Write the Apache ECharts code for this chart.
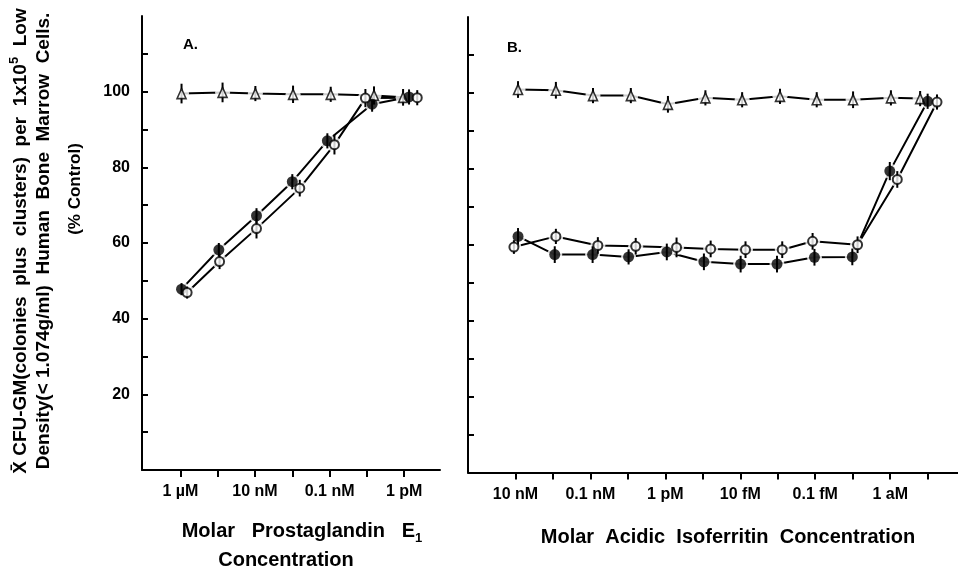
<!DOCTYPE html>
<html>
<head>
<meta charset="utf-8">
<script src="https://cdn.jsdelivr.net/npm/echarts@6/dist/echarts.min.js"></script>
<style>
  html, body { margin: 0; padding: 0; background: #fff; }
  #chart { width: 958px; height: 572px; }
</style>
</head>
<body>
<div id="chart"></div>
<script>
// 轴刻度位置 (对数浓度的序号, 0 = 第一个刻度)
var aTickValues = [0, 1, 2, 3, 4, 5, 6];
var aTickLabels = ['1 µM', '', '10 nM', '', '0.1 nM', '', '1 pM'];
var bTickValues = [0, 1, 2, 3, 4, 5, 6, 7, 8, 9, 10, 11];
var bTickLabels = ['10 nM', '', '0.1 nM', '', '1 pM', '', '10 fM', '', '0.1 fM', '', '1 aM', ''];
var yTickValues = [10, 20, 30, 40, 50, 60, 70, 80, 90, 100, 110];
var yLabelValues = [20, 40, 60, 80, 100];

// A: Prostaglandin E1
var aTriX = [0.03, 1.13, 2.01, 3.02, 4.03, 5.19, 5.97];
var aTriY = [99.5, 99.8, 99.5, 99.3, 99.3, 99.0, 98.5];
var aTriE = [2.6, 2.6, 2.0, 2.3, 2.0, 2.4, 2.2];
var aFillX = [0.03, 1.03, 2.04, 3.0, 3.94, 5.14, 6.13];
var aFillY = [47.8, 58.2, 67.2, 76.2, 87.0, 96.7, 98.6];
var aFillE = [1.6, 1.8, 2.0, 2.0, 2.0, 2.0, 2.0];
var aOpenX = [0.18, 1.05, 2.04, 3.2, 4.13, 4.96, 6.35];
var aOpenY = [46.9, 55.1, 63.8, 74.5, 86.0, 98.3, 98.4];
var aOpenE = [1.6, 2.0, 2.6, 2.2, 2.6, 2.4, 2.0];

// B: Acidic Isoferritin
var bTriX = [0.07, 1.08, 2.07, 3.08, 4.07, 5.07, 6.05, 7.06, 8.04, 9.01, 10.02, 10.8];
var bTriY = [100.9, 100.7, 99.3, 99.3, 97.0, 98.7, 98.2, 99.1, 98.2, 98.2, 98.7, 98.5];
var bTriE = [2.2, 2.2, 2.0, 2.0, 2.2, 2.0, 2.0, 2.0, 2.0, 2.2, 2.0, 2.0];
var bFillX = [0.07, 1.05, 2.06, 3.02, 4.04, 5.03, 6.01, 6.98, 7.98, 8.99, 9.99, 11.0];
var bFillY = [62.2, 57.4, 57.4, 56.8, 58.1, 55.5, 54.9, 54.9, 56.7, 56.8, 79.4, 97.8];
var bFillE = [2.2, 2.2, 2.2, 2.0, 2.2, 2.2, 2.2, 2.2, 2.2, 2.2, 2.4, 2.0];
var bOpenX = [-0.04, 1.08, 2.2, 3.21, 4.3, 5.21, 6.14, 7.12, 7.93, 9.13, 10.19, 11.25];
var bOpenY = [59.4, 62.2, 59.8, 59.6, 59.3, 58.9, 58.7, 58.7, 60.9, 60.0, 77.2, 97.6];
var bOpenE = [1.8, 2.0, 2.2, 2.2, 2.6, 2.2, 2.2, 2.2, 2.2, 2.2, 2.2, 2.0];

var FONT = 'Liberation Sans';

function zip(xs, ys, es) {
  return xs.map(function (x, i) { return es ? [x, ys[i], es[i]] : [x, ys[i]]; });
}

function errRender(params, api) {
  var x = api.value(0), y = api.value(1), e = api.value(2);
  var lo = api.coord([x, y - e]);
  var hi = api.coord([x, y + e]);
  return {
    type: 'line',
    shape: { x1: lo[0], y1: lo[1], x2: hi[0], y2: hi[1] },
    style: { stroke: '#000', lineWidth: 2 }
  };
}

var markStyles = {
  tri: { symbol: 'triangle', size: [9, 10], item: { color: '#fff', borderColor: '#000', borderWidth: 1.6 } },
  fill: { symbol: 'circle', size: 11, item: { color: '#000' } },
  open: { symbol: 'circle', size: 9, item: { color: '#fff', borderColor: '#000', borderWidth: 2 } }
};

// 每组数据: 连线 + 白色衬底 + 误差线 + 标记
function makeSeries(idx, xs, ys, es, kind) {
  var pts = zip(xs, ys);
  var m = markStyles[kind];
  return [
    {
      type: 'line', xAxisIndex: idx, yAxisIndex: idx, data: pts, symbol: 'none',
      lineStyle: { color: '#000', width: 2 }, z: 1, silent: true, animation: false
    },
    {
      type: 'scatter', xAxisIndex: idx, yAxisIndex: idx, data: pts, symbol: 'circle',
      symbolSize: 15, itemStyle: { color: '#fff' }, z: 2, silent: true, animation: false
    },
    {
      type: 'custom', xAxisIndex: idx, yAxisIndex: idx, data: zip(xs, ys, es),
      encode: { x: 0, y: 1 }, renderItem: errRender, z: 3, silent: true, animation: false
    },
    {
      type: 'scatter', xAxisIndex: idx, yAxisIndex: idx, data: pts, symbol: m.symbol,
      symbolSize: m.size, itemStyle: m.item, z: 4, animation: false
    }
  ];
}

function xAxisCfg(idx, min, max, ticks, labels) {
  return {
    type: 'value', gridIndex: idx, min: min, max: max,
    axisLine: { onZero: false, lineStyle: { color: '#000', width: 2 } },
    axisTick: { customValues: ticks, length: 7, lineStyle: { color: '#000', width: 2 } },
    axisLabel: {
      customValues: ticks.filter(function (v, i) { return labels[i] !== ''; }),
      formatter: function (v) { return labels[ticks.indexOf(Math.round(v))] || ''; },
      color: '#000', fontFamily: FONT, fontWeight: 'bold', fontSize: 16, margin: 14
    },
    splitLine: { show: false }
  };
}

function yAxisCfg(idx, showLabels) {
  return {
    type: 'value', gridIndex: idx, min: 0, max: 120,
    axisLine: { show: true, onZero: false, lineStyle: { color: '#000', width: 2 } },
    axisTick: { inside: true, customValues: yTickValues, length: 6, lineStyle: { color: '#000', width: 2 } },
    axisLabel: {
      show: showLabels, customValues: yLabelValues,
      color: '#000', fontFamily: FONT, fontWeight: 'bold', fontSize: 16, margin: 12
    },
    splitLine: { show: false }
  };
}

var chart = echarts.init(document.getElementById('chart'));

var option = {
  backgroundColor: '#fff',
  animation: false,
  grid: [
    { left: 142, top: 16, width: 298, height: 454 },
    { left: 468, top: 17, right: 0, height: 455.5 }
  ],
  xAxis: [
    xAxisCfg(0, -1.03, 6.96, aTickValues, aTickLabels),
    xAxisCfg(1, -1.265, 11.81, bTickValues, bTickLabels)
  ],
  yAxis: [yAxisCfg(0, true), yAxisCfg(1, false)],
  series: [].concat(
    makeSeries(0, aTriX, aTriY, aTriE, 'tri'),
    makeSeries(0, aFillX, aFillY, aFillE, 'fill'),
    makeSeries(0, aOpenX, aOpenY, aOpenE, 'open'),
    makeSeries(1, bTriX, bTriY, bTriE, 'tri'),
    makeSeries(1, bFillX, bFillY, bFillE, 'fill'),
    makeSeries(1, bOpenX, bOpenY, bOpenE, 'open')
  ),
  graphic: [
    { type: 'text', left: 183, top: 37, style: { text: 'A.', font: 'bold 15px ' + FONT, fill: '#000' } },
    { type: 'text', left: 507, top: 40, style: { text: 'B.', font: 'bold 15px ' + FONT, fill: '#000' } },
    {
      type: 'text', x: 19, y: 241, rotation: Math.PI / 2,
      style: {
        text: '{t|X\u0304 CFU-GM(colonies  plus  clusters)  per  1x10}{s|5}{t|  Low}',
        align: 'center', verticalAlign: 'middle', fill: '#000',
        rich: {
          t: { fontFamily: FONT, fontWeight: 'bold', fontSize: 19, lineHeight: 23, verticalAlign: 'bottom' },
          s: { fontFamily: FONT, fontWeight: 'bold', fontSize: 13, lineHeight: 23, verticalAlign: 'top' }
        }
      }
    },
    {
      type: 'text', x: 44, y: 241, rotation: Math.PI / 2,
      style: {
        text: 'Density(< 1.074g/ml)  Human  Bone  Marrow  Cells.',
        align: 'center', verticalAlign: 'middle', fill: '#000',
        font: 'bold 19px ' + FONT
      }
    },
    {
      type: 'text', x: 75, y: 189, rotation: Math.PI / 2,
      style: {
        text: '(% Control)', align: 'center', verticalAlign: 'middle', fill: '#000',
        font: 'bold 17px ' + FONT
      }
    },
    {
      type: 'text', x: 302, y: 533,
      style: {
        text: '{t|Molar   Prostaglandin   E}{b|1}', align: 'center', verticalAlign: 'middle', fill: '#000',
        rich: {
          t: { fontFamily: FONT, fontWeight: 'bold', fontSize: 20, lineHeight: 24, verticalAlign: 'top' },
          b: { fontFamily: FONT, fontWeight: 'bold', fontSize: 13, lineHeight: 24, verticalAlign: 'bottom' }
        }
      }
    },
    {
      type: 'text', x: 286, y: 560,
      style: { text: 'Concentration', align: 'center', verticalAlign: 'middle', fill: '#000', font: 'bold 20px ' + FONT }
    },
    {
      type: 'text', x: 728, y: 537,
      style: {
        text: 'Molar  Acidic  Isoferritin  Concentration', align: 'center', verticalAlign: 'middle',
        fill: '#000', font: 'bold 20px ' + FONT
      }
    }
  ]
};

chart.setOption(option);
</script>
</body>
</html>
